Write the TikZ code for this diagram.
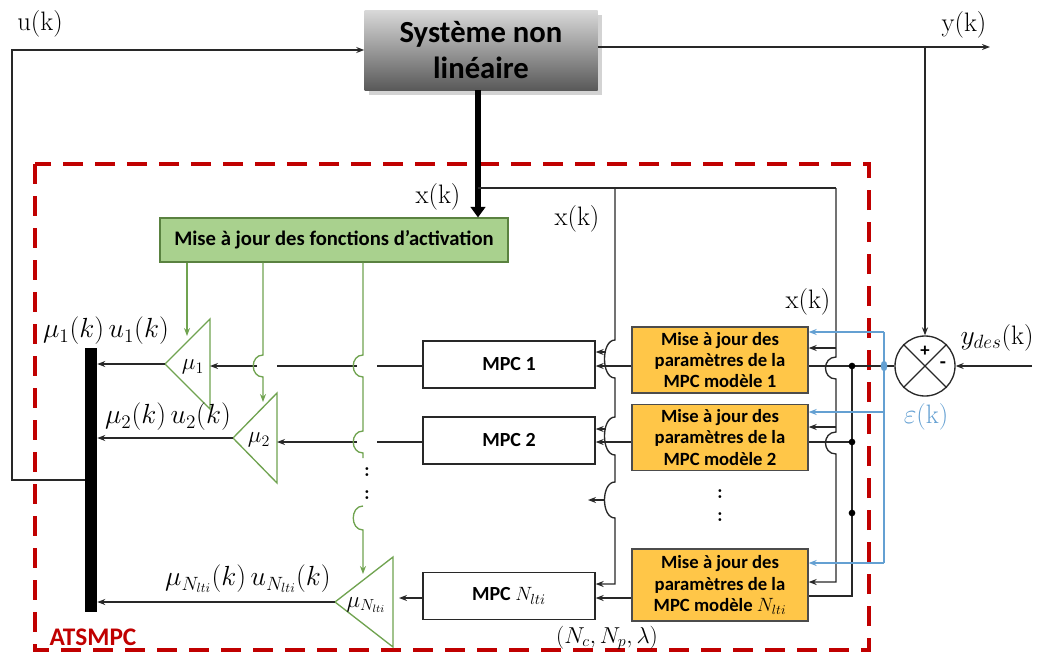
\documentclass[tikz,border=0pt]{standalone}
\usepackage{fontspec}
\newfontfamily\cb{Carlito}
\usetikzlibrary{arrows.meta,shadows}
\definecolor{dred}{RGB}{192,0,0}
\definecolor{orfill}{RGB}{255,198,72}
\definecolor{grfill}{RGB}{169,209,142}
\definecolor{grline}{RGB}{112,163,80}
\definecolor{blu}{RGB}{100,160,210}
\definecolor{wire}{RGB}{40,40,40}
\begin{document}
\begin{tikzpicture}[x=0.75pt,y=-0.75pt,
  w/.style={draw=wire,line width=1pt},
  a/.style={-{Stealth[length=6pt,width=4.5pt]}},
  g/.style={draw=grline,line width=1pt},
  b/.style={draw=blu,line width=1pt},
  lbl/.style={font=\fontsize{20}{22}\selectfont, inner sep=0pt},
  mlbl/.style={font=\fontsize{20}{22}\selectfont, inner sep=0pt},
  slbl/.style={font=\fontsize{17}{19}\selectfont, inner sep=0pt},
  sysbox/.style={minimum width=233*0.75pt,minimum height=80*0.75pt,top color=black!15,bottom color=black!65,
     drop shadow={shadow xshift=3pt,shadow yshift=-4pt,opacity=0.35},align=center,
     font=\cb\bfseries\fontsize{23}{27}\selectfont},
  grbox/.style={draw=grline!80!black,line width=0.8pt,fill=grfill,minimum width=348*0.75pt,minimum height=44*0.75pt,
     font=\cb\bfseries\fontsize{15.5}{17}\selectfont,inner sep=1pt},
  mpcbox/.style={draw=wire,line width=1pt,fill=white,minimum width=172*0.75pt,minimum height=47*0.75pt,
     font=\cb\bfseries\fontsize{15}{17}\selectfont},
  orbox/.style={draw=black!70,line width=1pt,fill=orfill,minimum width=176*0.75pt,minimum height=66*0.75pt,
     align=center,font=\cb\bfseries\fontsize{14}{16}\selectfont,inner sep=0pt},
  tri/.style={draw=grline,line width=1pt,fill=white},
  dot/.style={circle,fill=black,inner sep=0pt,minimum size=5pt},
  colon/.style={font=\bfseries\fontsize{15}{16}\selectfont,inner sep=0pt},
]
\useasboundingbox (0,0) rectangle (1042,664);

% ATSMPC frame
\draw[dred,line width=3pt,dash pattern=on 15pt off 9pt] (35,164) rectangle (869,650);
\node[font=\cb\bfseries\fontsize{19}{21}\selectfont,text=dred,inner sep=0pt] (ats) at (93,637) {ATSMPC};

% main nodes
\node[sysbox] (sys) at (481,50) {Système non\\linéaire};
\node[grbox] (act) at (334,240) {Mise à jour des fonctions d’activation};
\node[mpcbox] (m1) at (509,364.5) {MPC 1};
\node[mpcbox] (m2) at (509,440.5) {MPC 2};
\node[mpcbox] (mN) at (509,596) {MPC $N_{lti}$};
\node[orbox] (o1) at (720,360) {Mise à jour des\\paramètres de la\\MPC modèle 1};
\node[orbox] (o2) at (720,437.5) {Mise à jour des\\paramètres de la\\MPC modèle 2};
\node[orbox,minimum height=72*0.75pt] (oN) at (720,585) {Mise à jour des\\paramètres de la\\MPC modèle $N_{lti}$};
\node[fill=black,minimum width=12*0.75pt,minimum height=264*0.75pt,inner sep=0pt] (bar) at (91,480) {};
\node[circle,draw=wire,line width=1pt,minimum size=60*0.75pt,inner sep=0pt] (sum) at (925,366) {};
\draw[w] (sum.north west) -- (sum.south east) (sum.north east) -- (sum.south west);
\node[font=\cb\bfseries\fontsize{14}{16}\selectfont,inner sep=0pt] (plus) at (925,351) {+};
\node[font=\cb\bfseries\fontsize{15}{16}\selectfont,inner sep=0pt] (minus) at (943,365) {-};

% triangles (gains)
\draw[tri] (210,319) -- (210,409) -- (165,364) -- cycle;
\draw[tri] (277,393) -- (277,483) -- (233,438) -- cycle;
\draw[tri] (393,557) -- (393,647) -- (335,602) -- cycle;
\node[slbl] (mu1) at (193,367) {$\mu_1$};
\node[slbl] (mu2) at (259,440) {$\mu_2$};
\node[slbl] (muN) at (366,605) {$\mu_{N_{lti}}$};
\coordinate (t1in) at (210,366); \coordinate (t1out) at (165,364);
\coordinate (t2in) at (277,442); \coordinate (t2out) at (233,438);
\coordinate (tNin) at (399,598); \coordinate (tNout) at (335,602);
\coordinate (t1top) at (187,336); \coordinate (t2top) at (263,402); \coordinate (tNtop) at (363,574);

% labels
\node[lbl] (uk) at (40,24) {u(k)};
\node[lbl] (yk) at (964,25) {y(k)};
\node[lbl] (xk1) at (438,197) {x(k)};
\node[lbl] (xk2) at (577,219) {x(k)};
\node[lbl] (xk3) at (808,302) {x(k)};
\node[lbl] (ydes) at (997,338) {$y_{des}$(k)};
\node[lbl,text=blu] (eps) at (926,417) {$\varepsilon$(k)};
\node[mlbl] (l1) at (106,331) {$\mu_1(k)\,u_1(k)$};
\node[mlbl] (l2) at (168,417) {$\mu_2(k)\,u_2(k)$};
\node[mlbl] (lN) at (248,579) {$\mu_{N_{lti}}(k)\,u_{N_{lti}}(k)$};
\node[slbl] (par) at (607,638) {$(N_c, N_p, \lambda)$};
\node[colon] (c1) at (367,472) {:};
\node[colon] (c2) at (367,495) {:};
\node[colon] (c3) at (720,494) {:};
\node[colon] (c4) at (720,517) {:};

% plant loop
\draw[w,a] (bar.west |- 0,480) -- (12,480) -- (12,50) -- (sys.west |- 0,50);
\draw[w,a] (sys.east |- 0,47) -- (990,47);
\draw[w,a] (925,47) -- (sum.north);
\draw[w,a] (1032,366) -- (sum.east);

% state x(k)
\draw[black,line width=4pt,-{Triangle[length=8pt,width=11pt]}] (sys.south -| 478,0) -- (act.north -| 478,0);
\draw[w] (478,188) -- (836,188);
\draw[w,a] (836,188) -- (836,357) .. controls (822,357) and (822,379) .. (836,379)
   -- (836,432) .. controls (822,432) and (822,454) .. (836,454) -- (836,582) -- (oN.east |- 0,582);
\draw[w,a] (836,348) -- (o1.east |- 0,348);
\draw[w,a] (836,427) -- (o2.east |- 0,427);
\draw[w,a] (615,188) -- (615,340) .. controls (601,340) and (601,378) .. (615,378)
   -- (615,417) .. controls (601,417) and (601,455) .. (615,455)
   -- (615,482) .. controls (601,482) and (601,518) .. (615,518) -- (615,584) -- (mN.east |- 0,584);
\draw[w,a] (606,352) -- (m1.east |- 0,352);
\draw[w,a] (606,429) -- (m2.east |- 0,429);
\draw[w,a] (605,500) -- (588,500);

% error signal
\draw[w] (sum.west) -- (o1.east |- sum.west);
\draw[w] (852,366) -- (852,596) -- (oN.east |- 0,596);
\draw[w] (852,442) -- (o2.east |- 0,442);
\node[dot] (d1) at (852,366) {};
\node[dot] (d2) at (852,442) {};
\node[dot] (d3) at (852,513) {};
\draw[b] (884,332) -- (884,563);
\draw[b,a] (884,332) -- (o1.east |- 0,332);
\draw[b,a] (884,412) -- (o2.east |- 0,412);
\draw[b,a] (884,563) -- (oN.east |- 0,563);
\fill[blu] (884,366) ellipse [x radius=2.5pt, y radius=4pt];

% MPC -> gains
\draw[w,a] (o1.west |- 0,366) -- (m1.east |- 0,366);
\draw[w,a] (o2.west |- 0,442) -- (m2.east |- 0,442);
\draw[w,a] (oN.west |- 0,598) -- (mN.east |- 0,598);
\draw[w] (m1.west |- 0,366) -- (377,366);
\draw[w] (357,366) -- (277,366);
\draw[w,a] (257,366) -- (t1in);
\draw[w] (m2.west |- 0,442) -- (377,442);
\draw[w,a] (357,442) -- (t2in);
\draw[w,a] (mN.west |- 0,598) -- (tNin);
\draw[w,a] (t1out) -- (bar.east |- t1out);
\draw[w,a] (t2out) -- (bar.east |- t2out);
\draw[w,a] (tNout) -- (bar.east |- tNout);

% activation lines (green)
\draw[g,a] (act.south -| 187,0) -- (t1top);
\draw[g,a] (act.south -| 263,0) -- (263,355) .. controls (250,355) and (250,377) .. (263,377) -- (t2top);
\draw[g] (act.south -| 363,0) -- (363,355) .. controls (350,355) and (350,377) .. (363,377)
   -- (363,431) .. controls (350,431) and (350,453) .. (363,453) -- (363,458);
\draw[g,a] (363,506) .. controls (350,506) and (350,530) .. (363,530) -- (tNtop);
\end{tikzpicture}
\end{document}
